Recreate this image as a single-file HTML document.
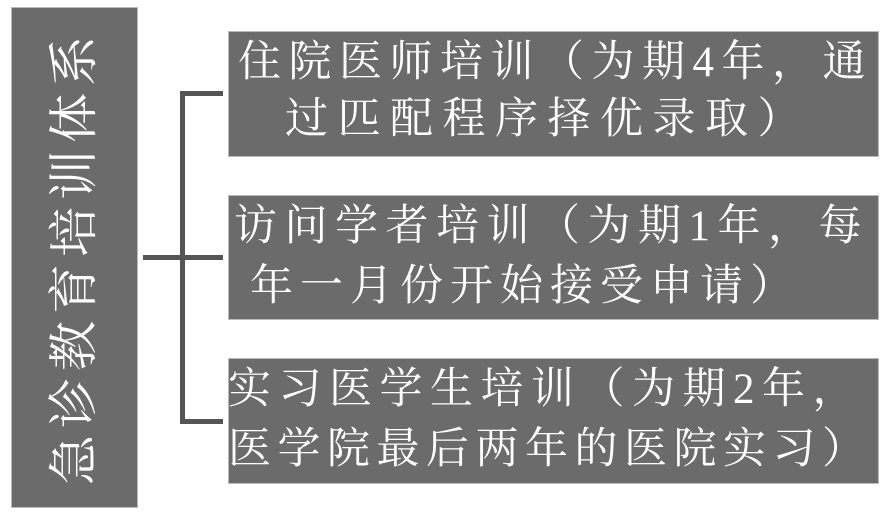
<!DOCTYPE html>
<html><head><meta charset="utf-8"><style>
body{margin:0;width:885px;height:516px;background:#fff;position:relative;overflow:hidden;font-family:"Liberation Serif","Noto Serif CJK SC",serif;color:#fff}
.b{position:absolute;background:#6b6b6b;border:1px solid #bbb;box-sizing:border-box}
.l{position:absolute;background:#555}
.t{position:absolute;font-size:43px;line-height:50px;white-space:nowrap;height:50px}
.v{position:absolute;left:74px;top:257px;width:500px;height:60px;margin-left:-250px;margin-top:-30px;transform:rotate(-90deg);font-size:50px;line-height:60px;letter-spacing:7px;text-align:center;white-space:nowrap}
</style></head><body>
<div class="b" style="left:11px;top:7px;width:127px;height:501px"></div>
<div class="v">急诊教育培训体系</div>
<div class="l" style="left:143px;top:255px;width:80px;height:5px"></div>
<div class="l" style="left:180px;top:91px;width:5px;height:333px"></div>
<div class="l" style="left:180px;top:91px;width:43px;height:5px"></div>
<div class="l" style="left:180px;top:419px;width:43px;height:5px"></div>
<div class="b" style="left:228px;top:31px;width:651px;height:126px"></div>
<div class="b" style="left:228px;top:195px;width:651px;height:125px"></div>
<div class="b" style="left:228px;top:358px;width:651px;height:126px"></div>
<div class="t" style="left:238px;top:38px;letter-spacing:7.5px">住院医师培训（为期4年，通</div>
<div class="t" style="left:285px;top:95px;letter-spacing:9.5px">过匹配程序择优录取）</div>
<div class="t" style="left:234px;top:202px;letter-spacing:7.5px">访问学者培训（为期1年，每</div>
<div class="t" style="left:250px;top:262px;letter-spacing:7px">年一月份开始接受申请）</div>
<div class="t" style="left:228px;top:365px;letter-spacing:7.5px">实习医学生培训（为期2年，</div>
<div class="t" style="left:228px;top:425px;letter-spacing:6.5px">医学院最后两年的医院实习）</div>
</body></html>
